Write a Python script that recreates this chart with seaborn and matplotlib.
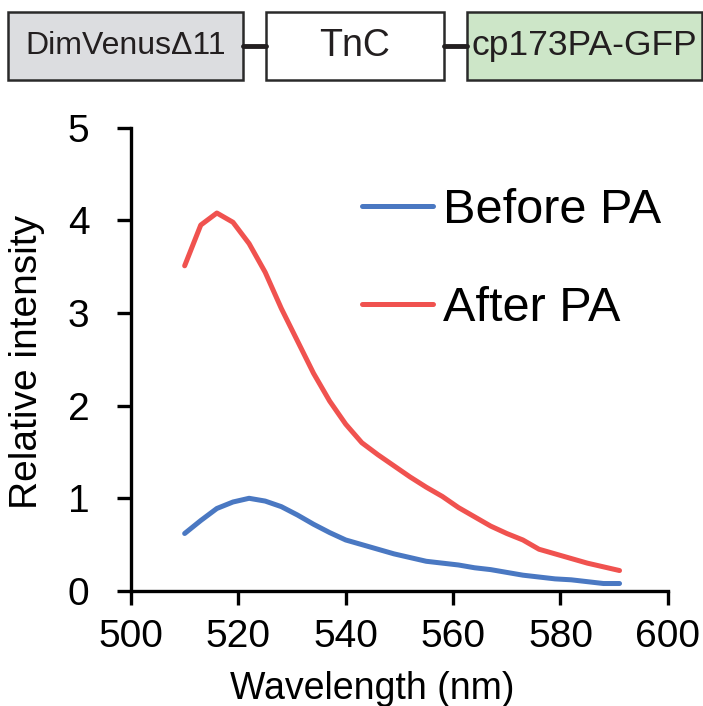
import matplotlib
matplotlib.use("Agg")
import matplotlib.pyplot as plt
import pandas as pd
import seaborn as sns
from matplotlib.patches import Rectangle
from matplotlib.lines import Line2D

wavelength = [510, 513, 516, 519, 522, 525, 528, 531, 534, 537, 540, 543, 546, 549,
              552, 555, 558, 561, 564, 567, 570, 573, 576, 579, 582, 585, 588, 591]
before_pa = [0.62, 0.76, 0.89, 0.96, 1.00, 0.97, 0.91, 0.82, 0.72, 0.63, 0.55, 0.50, 0.45, 0.40,
             0.36, 0.32, 0.30, 0.28, 0.25, 0.23, 0.20, 0.17, 0.15, 0.13, 0.12, 0.10, 0.08, 0.08]
after_pa = [3.51, 3.95, 4.08, 3.98, 3.75, 3.44, 3.05, 2.70, 2.35, 2.05, 1.80, 1.60, 1.47, 1.35,
            1.23, 1.12, 1.02, 0.90, 0.80, 0.70, 0.62, 0.55, 0.45, 0.40, 0.35, 0.30, 0.26, 0.22]
series_names = ["Before PA", "After PA"]
domains = ["DimVenus\u039411", "TnC", "cp173PA-GFP"]

df = pd.concat([
    pd.DataFrame({"wl": wavelength, "val": before_pa, "series": series_names[0]}),
    pd.DataFrame({"wl": wavelength, "val": after_pa, "series": series_names[1]}),
])

sns.set_style("ticks")
plt.rcParams["font.family"] = ["Liberation Sans", "DejaVu Sans"]
plt.rcParams.update({"text.color": "black", "axes.labelcolor": "black",
                     "xtick.color": "black", "ytick.color": "black"})

fig = plt.figure(figsize=(7.03, 7.06), dpi=100)
ax = fig.add_axes([0.1863, 0.163, 0.7637, 0.656])

palette = {"Before PA": "#4a78c2", "After PA": "#f0524f"}
sns.lineplot(data=df, x="wl", y="val", hue="series", palette=palette,
             linewidth=3.6, legend=False, ax=ax)

ax.set_xlim(500, 600)
ax.set_ylim(0, 5)
ax.set_xticks(range(500, 601, 20))
ax.set_yticks(range(0, 6))
ax.set_xlabel("Wavelength (nm)", fontsize=27)
ax.set_ylabel("Relative intensity", fontsize=28)
ax.xaxis.set_label_coords(0.45, -0.172)
ax.yaxis.set_label_coords(-0.16, 0.495)
ax.tick_params(axis="both", labelsize=28, width=2.4, length=10)
ax.tick_params(axis="x", pad=10)
ax.tick_params(axis="y", pad=20)
for side in ["left", "bottom"]:
    ax.spines[side].set_linewidth(2.4)
    ax.spines[side].set_color("black")
sns.despine(ax=ax)

handles = [Line2D([], [], color=palette[n], linewidth=3.6, solid_capstyle="round")
           for n in series_names]
ax.legend(handles, series_names, loc="upper left", bbox_to_anchor=(0.395, 0.913),
          frameon=False, fontsize=35, handlelength=1.45, handletextpad=0.2,
          labelspacing=1.1, borderaxespad=0)

# construct diagram at the top
W, H = 703, 706
boxes = [(8, 243, "#dcdde0"), (266, 444, "#ffffff"), (467, 702, "#cde6c8")]
box_sizes = [23, 27, 25.5]
y0, y1 = 12, 80
for (x0, x1, fc), label, fs in zip(boxes, domains, box_sizes):
    fig.patches.append(Rectangle((x0 / W, 1 - y1 / H), (x1 - x0) / W, (y1 - y0) / H,
                                 transform=fig.transFigure, facecolor=fc,
                                 edgecolor="#2a2a2a", linewidth=1.8))
    fig.text((x0 + x1) / 2 / W, 1 - (y0 + y1) / 2 / H, label, ha="center", va="center",
             fontsize=fs, color="#231f20")
for xa, xb in [(243, 266), (444, 467)]:
    fig.add_artist(Line2D([xa / W, xb / W], [1 - 46 / H, 1 - 46 / H],
                          transform=fig.transFigure, color="#231f20", linewidth=3.5))

fig.savefig("out.png", dpi=100)
